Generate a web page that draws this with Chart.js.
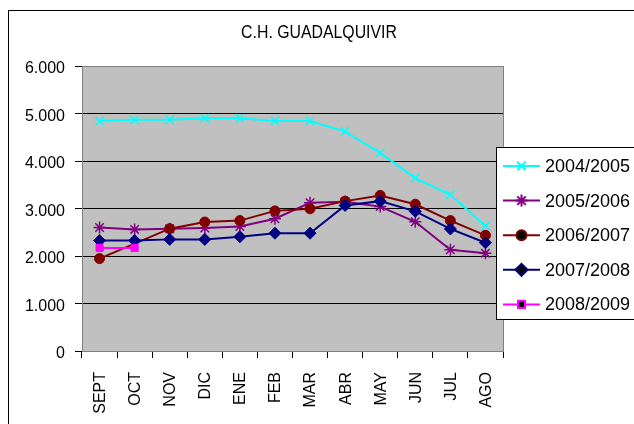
<!DOCTYPE html>
<html>
<head>
<meta charset="utf-8">
<script src="https://cdn.jsdelivr.net/npm/chart.js@4/dist/chart.umd.min.js"></script>
<style>
body{margin:0;background:#fff;}
#wrap{width:634px;height:424px;position:relative;}
</style>
</head>
<body>
<div id="wrap"><canvas id="myChart" width="634" height="424"></canvas></div>
<script>
const months=["SEPT","OCT","NOV","DIC","ENE","FEB","MAR","ABR","MAY","JUN","JUL","AGO"];
const seriesNames=["2004/2005","2005/2006","2006/2007","2007/2008","2008/2009"];
const s0405=[4840,4870,4870,4900,4900,4840,4840,4620,4170,3640,3290,2630];
const s0506=[2600,2560,2575,2590,2620,2785,3120,3140,3040,2720,2130,2060];
const s0607=[1945,null,2575,2715,2745,2950,2995,3155,3275,3090,2745,2435];
const s0708=[2325,2325,2350,2350,2405,2480,2480,3065,3155,2940,2570,2280];
const s0809=[2170,2170,null,null,null,null,null,null,null,null,null,null];
const yTicks=[0,1000,2000,3000,4000,5000,6000];

const colors=["#00FFFF","#800080","#800000","#000080","#FF00FF"];
const markers=["crossRot","star","circle","rectRot","rect"];
const radii=[6,6,5,6,5];
const allSeries=[s0405,s0506,s0607,s0708,s0809];

const fontFam="'Liberation Sans Narrow','Liberation Sans',Arial,sans-serif";

function fmt(v){
    return String(v).replace(/\B(?=(\d{3})+(?!\d))/g,".");
}

const datasets=allSeries.map((d,i)=>({
    label:seriesNames[i],
    data:d,
    borderColor:colors[i],
    backgroundColor:colors[i],
    borderWidth:2,
    pointStyle:markers[i],
    pointRadius:radii[i],
    pointBorderWidth:(i<2)?1.5:1,
    pointBackgroundColor:colors[i],
    pointBorderColor:colors[i],
    spanGaps:true,
    tension:0,
    order:5-i
}));

const decor={
    id:"decor",
    beforeDraw(chart){
        const c=chart.ctx;
        const a=chart.chartArea;
        c.save();
        c.fillStyle="#fff";
        c.fillRect(0,0,chart.width,chart.height);
        c.strokeStyle="#000";
        c.lineWidth=1;
        c.strokeRect(8.5,10.5,700,500);
        c.fillStyle="#C0C0C0";
        c.fillRect(a.left,a.top,a.right-a.left,a.bottom-a.top);
        // title, squeezed a bit to look like the narrow excel font
        c.fillStyle="#000";
        c.font="18px "+fontFam;
        c.textAlign="center";
        c.textBaseline="middle";
        c.translate(319,33);
        c.scale(0.88,1);
        c.fillText("C.H. GUADALQUIVIR",0,0);
        c.restore();
    },
    beforeDatasetsDraw(chart){
        const c=chart.ctx;
        const a=chart.chartArea;
        c.save();
        c.strokeStyle="#808080";
        c.lineWidth=1;
        c.strokeRect(Math.round(a.left)+0.5,Math.round(a.top)+0.5,Math.round(a.right-a.left),Math.round(a.bottom-a.top));
        c.restore();
    },
    afterDraw(chart){
        const c=chart.ctx;
        c.save();
        c.fillStyle="#fff";
        c.strokeStyle="#000";
        c.lineWidth=1;
        c.fillRect(496.5,147.5,200,172);
        c.strokeRect(496.5,147.5,200,172);
        c.font="18px "+fontFam;
        c.textBaseline="middle";
        c.textAlign="left";
        chart.data.datasets.forEach((ds,i)=>{
            const y=166+i*34.6;
            c.strokeStyle=ds.borderColor;
            c.lineWidth=2;
            c.beginPath();
            c.moveTo(503,y);
            c.lineTo(540,y);
            c.stroke();
            Chart.helpers.drawPoint(c,{pointStyle:ds.pointStyle,radius:ds.pointRadius,borderWidth:ds.pointBorderWidth},521.5,y);
            c.fillStyle="#000";
            c.fillText(ds.label,545,y+1);
        });
        c.restore();
    }
};

const ctx=document.getElementById("myChart");
const myChart=new Chart(ctx,{
    type:"line",
    data:{labels:months,datasets:datasets},
    options:{
        responsive:false,
        animation:false,
        events:[],
        layout:{padding:{left:0,right:131,top:66,bottom:0}},
        plugins:{legend:{display:false},title:{display:false},tooltip:{enabled:false}},
        scales:{
            x:{
                offset:true,
                grid:{offset:true,drawOnChartArea:false,drawTicks:true,tickLength:7,color:"#000"},
                border:{display:true,color:"#808080"},
                ticks:{color:"#000",font:{family:fontFam,size:16},minRotation:90,maxRotation:90,padding:14,autoSkip:false,labelOffset:1},
                afterFit(scale){scale.height=73;}
            },
            y:{
                min:0,max:6000,
                afterBuildTicks(scale){scale.ticks=yTicks.map(v=>({value:v}));},
                grid:{color:"#000",tickLength:7},
                border:{display:true,color:"#808080"},
                ticks:{color:"#000",font:{family:fontFam,size:16},padding:10,labelOffset:3,callback:v=>fmt(v)},
                afterFit(scale){scale.width=82;}
            }
        }
    },
    plugins:[decor]
});
</script>
</body>
</html>
